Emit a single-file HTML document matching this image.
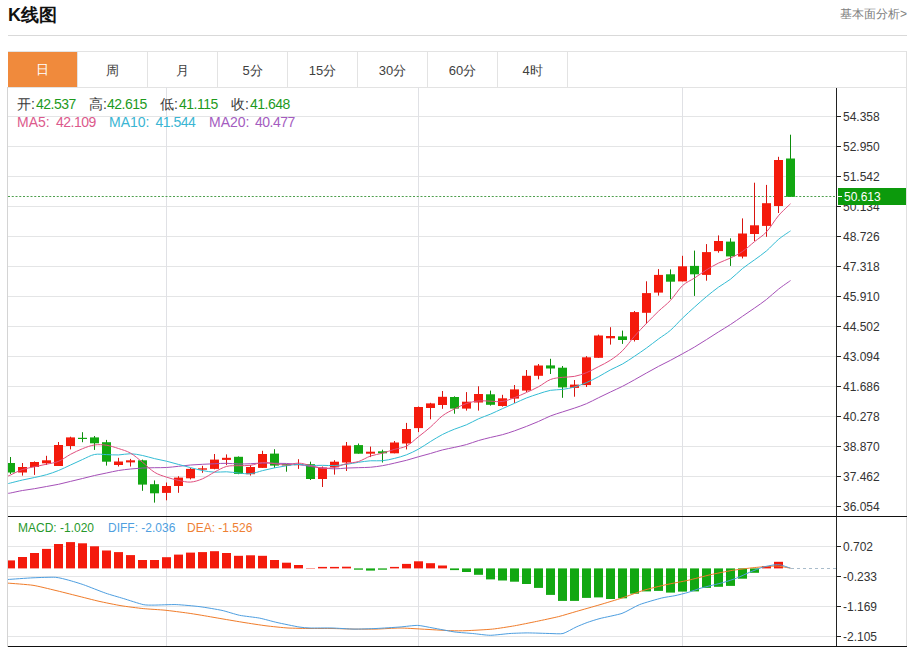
<!DOCTYPE html>
<html><head><meta charset="utf-8">
<style>
html,body{margin:0;padding:0;background:#fff;}
body{width:908px;height:648px;position:relative;overflow:hidden;font-family:"Liberation Sans",sans-serif;color:#333;}
.title{position:absolute;left:8px;top:3px;font-size:18px;font-weight:bold;color:#111;line-height:24px;}
.more{position:absolute;right:1px;top:5px;font-size:12px;color:#808080;line-height:18px;}
.hr{position:absolute;left:8px;top:35px;width:899px;height:1px;background:#d9d9d9;}
.tabbar{position:absolute;left:8px;top:51px;width:898px;height:35px;border-top:1px solid #e3e3e3;border-bottom:1px solid #e3e3e3;}
.tab{position:absolute;top:51px;width:69px;height:36px;border-right:1px solid #e3e3e3;text-align:center;line-height:39px;font-size:13px;color:#404040;}
.tab.on{background:#f08a3c;color:#fff;top:52px;height:35px;line-height:35px;}
svg{position:absolute;left:0;top:0;}
.ax{font-size:12px;fill:#333;font-family:"Liberation Sans",sans-serif;}
.info{position:absolute;font-size:14px;line-height:18px;white-space:nowrap;color:#3a3a3a;}
.n{letter-spacing:-0.5px;}
.g{color:#1d9a1d;}
</style></head><body>
<div class="title">K线图</div>
<div class="more">基本面分析&gt;</div>
<div class="hr"></div>
<div class="tabbar"></div>
<div class="tab on" style="left:8px">日</div><div class="tab" style="left:78px">周</div><div class="tab" style="left:148px">月</div><div class="tab" style="left:218px">5分</div><div class="tab" style="left:288px">15分</div><div class="tab" style="left:358px">30分</div><div class="tab" style="left:428px">60分</div><div class="tab" style="left:498px">4时</div>
<svg width="908" height="648" viewBox="0 0 908 648">
<defs>
<clipPath id="clipmain"><rect x="8" y="88" width="828" height="428"/></clipPath>
<clipPath id="clipmacd"><rect x="8" y="517" width="828" height="129"/></clipPath>
</defs>
<line x1="7.5" y1="87" x2="7.5" y2="647" stroke="#d4d4d4"/>
<line x1="906.5" y1="51" x2="906.5" y2="647" stroke="#e0e0e0"/>
<line x1="8" y1="116.5" x2="836" y2="116.5" stroke="#e4e5e6"/>
<line x1="8" y1="146.5" x2="836" y2="146.5" stroke="#e4e5e6"/>
<line x1="8" y1="176.5" x2="836" y2="176.5" stroke="#e4e5e6"/>
<line x1="8" y1="206.5" x2="836" y2="206.5" stroke="#e4e5e6"/>
<line x1="8" y1="236.5" x2="836" y2="236.5" stroke="#e4e5e6"/>
<line x1="8" y1="266.5" x2="836" y2="266.5" stroke="#e4e5e6"/>
<line x1="8" y1="296.5" x2="836" y2="296.5" stroke="#e4e5e6"/>
<line x1="8" y1="326.5" x2="836" y2="326.5" stroke="#e4e5e6"/>
<line x1="8" y1="356.5" x2="836" y2="356.5" stroke="#e4e5e6"/>
<line x1="8" y1="386.5" x2="836" y2="386.5" stroke="#e4e5e6"/>
<line x1="8" y1="416.5" x2="836" y2="416.5" stroke="#e4e5e6"/>
<line x1="8" y1="446.5" x2="836" y2="446.5" stroke="#e4e5e6"/>
<line x1="8" y1="476.5" x2="836" y2="476.5" stroke="#e4e5e6"/>
<line x1="8" y1="506.5" x2="836" y2="506.5" stroke="#e4e5e6"/>
<line x1="8" y1="546.5" x2="836" y2="546.5" stroke="#e4e5e6"/>
<line x1="8" y1="576.5" x2="836" y2="576.5" stroke="#e4e5e6"/>
<line x1="8" y1="606.5" x2="836" y2="606.5" stroke="#e4e5e6"/>
<line x1="8" y1="636.5" x2="836" y2="636.5" stroke="#e4e5e6"/>
<line x1="166.5" y1="87" x2="166.5" y2="646" stroke="#e0e1e5"/>
<line x1="418.5" y1="87" x2="418.5" y2="646" stroke="#e0e1e5"/>
<line x1="682.5" y1="87" x2="682.5" y2="646" stroke="#e0e1e5"/>
<line x1="791" y1="568.5" x2="836" y2="568.5" stroke="#a9bccb" stroke-dasharray="3,3"/>
<line x1="8" y1="196.5" x2="836" y2="196.5" stroke="#4f9f4f" stroke-dasharray="2,1.75"/>
<g clip-path="url(#clipmain)">
<rect x="10.0" y="457.0" width="1" height="17.0" fill="#0c8c0c"/>
<rect x="6.0" y="463.0" width="9" height="9.5" fill="#12a712"/>
<rect x="22.0" y="463.0" width="1" height="12.6" fill="#d81510"/>
<rect x="18.0" y="467.0" width="9" height="5.5" fill="#f41a0c"/>
<rect x="34.0" y="461.4" width="1" height="13.5" fill="#d81510"/>
<rect x="30.0" y="462.0" width="9" height="5.0" fill="#f41a0c"/>
<rect x="46.0" y="455.8" width="1" height="9.2" fill="#d81510"/>
<rect x="42.0" y="460.3" width="9" height="3.0" fill="#f41a0c"/>
<rect x="58.0" y="442.0" width="1" height="24.0" fill="#d81510"/>
<rect x="54.0" y="445.0" width="9" height="21.0" fill="#f41a0c"/>
<rect x="70.0" y="436.7" width="1" height="12.7" fill="#d81510"/>
<rect x="66.0" y="437.4" width="9" height="8.6" fill="#f41a0c"/>
<rect x="82.0" y="432.2" width="1" height="10.0" fill="#0c8c0c"/>
<rect x="78.0" y="437.8" width="9" height="1.2" fill="#12a712"/>
<rect x="94.0" y="436.0" width="1" height="13.9" fill="#0c8c0c"/>
<rect x="90.0" y="437.4" width="9" height="5.9" fill="#12a712"/>
<rect x="106.0" y="439.9" width="1" height="25.7" fill="#0c8c0c"/>
<rect x="102.0" y="442.2" width="9" height="19.5" fill="#12a712"/>
<rect x="118.0" y="457.8" width="1" height="8.7" fill="#d81510"/>
<rect x="114.0" y="461.5" width="9" height="3.5" fill="#f41a0c"/>
<rect x="130.0" y="458.9" width="1" height="7.6" fill="#d81510"/>
<rect x="126.0" y="460.3" width="9" height="2.1" fill="#f41a0c"/>
<rect x="142.0" y="459.6" width="1" height="31.2" fill="#0c8c0c"/>
<rect x="138.0" y="460.3" width="9" height="24.3" fill="#12a712"/>
<rect x="154.0" y="480.4" width="1" height="22.2" fill="#0c8c0c"/>
<rect x="150.0" y="484.2" width="9" height="9.1" fill="#12a712"/>
<rect x="166.0" y="482.5" width="1" height="17.8" fill="#d81510"/>
<rect x="162.0" y="486.0" width="9" height="6.9" fill="#f41a0c"/>
<rect x="178.0" y="476.2" width="1" height="16.6" fill="#d81510"/>
<rect x="174.0" y="477.6" width="9" height="8.4" fill="#f41a0c"/>
<rect x="190.0" y="468.0" width="1" height="11.4" fill="#d81510"/>
<rect x="186.0" y="468.9" width="9" height="9.4" fill="#f41a0c"/>
<rect x="202.0" y="465.8" width="1" height="7.0" fill="#d81510"/>
<rect x="198.0" y="468.3" width="9" height="1.4" fill="#f41a0c"/>
<rect x="214.0" y="454.0" width="1" height="15.3" fill="#d81510"/>
<rect x="210.0" y="459.6" width="9" height="9.3" fill="#f41a0c"/>
<rect x="226.0" y="454.4" width="1" height="10.7" fill="#d81510"/>
<rect x="222.0" y="457.8" width="9" height="2.1" fill="#f41a0c"/>
<rect x="238.0" y="456.4" width="1" height="17.8" fill="#0c8c0c"/>
<rect x="234.0" y="456.8" width="9" height="17.1" fill="#12a712"/>
<rect x="250.0" y="465.0" width="1" height="10.6" fill="#d81510"/>
<rect x="246.0" y="467.0" width="9" height="7.2" fill="#f41a0c"/>
<rect x="262.0" y="450.8" width="1" height="17.1" fill="#d81510"/>
<rect x="258.0" y="454.0" width="9" height="13.9" fill="#f41a0c"/>
<rect x="274.0" y="449.2" width="1" height="18.7" fill="#0c8c0c"/>
<rect x="270.0" y="453.6" width="9" height="12.0" fill="#12a712"/>
<rect x="286.0" y="464.4" width="1" height="7.3" fill="#0c8c0c"/>
<rect x="282.0" y="464.2" width="9" height="1.2" fill="#12a712"/>
<rect x="298.0" y="459.2" width="1" height="9.7" fill="#d81510"/>
<rect x="294.0" y="464.0" width="9" height="1.2" fill="#f41a0c"/>
<rect x="310.0" y="461.7" width="1" height="18.3" fill="#0c8c0c"/>
<rect x="306.0" y="464.2" width="9" height="14.8" fill="#12a712"/>
<rect x="322.0" y="466.5" width="1" height="20.5" fill="#d81510"/>
<rect x="318.0" y="467.5" width="9" height="11.5" fill="#f41a0c"/>
<rect x="334.0" y="460.2" width="1" height="14.4" fill="#d81510"/>
<rect x="330.0" y="461.7" width="9" height="5.6" fill="#f41a0c"/>
<rect x="346.0" y="442.0" width="1" height="29.0" fill="#d81510"/>
<rect x="342.0" y="445.6" width="9" height="16.9" fill="#f41a0c"/>
<rect x="358.0" y="443.5" width="1" height="10.2" fill="#0c8c0c"/>
<rect x="354.0" y="445.1" width="9" height="8.6" fill="#12a712"/>
<rect x="370.0" y="446.6" width="1" height="10.5" fill="#d81510"/>
<rect x="366.0" y="451.7" width="9" height="2.0" fill="#f41a0c"/>
<rect x="382.0" y="449.7" width="1" height="12.8" fill="#0c8c0c"/>
<rect x="378.0" y="451.3" width="9" height="2.0" fill="#12a712"/>
<rect x="394.0" y="441.0" width="1" height="12.3" fill="#d81510"/>
<rect x="390.0" y="442.5" width="9" height="10.8" fill="#f41a0c"/>
<rect x="406.0" y="422.9" width="1" height="26.5" fill="#d81510"/>
<rect x="402.0" y="429.0" width="9" height="14.5" fill="#f41a0c"/>
<rect x="418.0" y="406.5" width="1" height="25.6" fill="#d81510"/>
<rect x="414.0" y="407.0" width="9" height="21.1" fill="#f41a0c"/>
<rect x="430.0" y="402.8" width="1" height="16.5" fill="#d81510"/>
<rect x="426.0" y="403.4" width="9" height="4.6" fill="#f41a0c"/>
<rect x="442.0" y="391.0" width="1" height="17.8" fill="#d81510"/>
<rect x="438.0" y="396.8" width="9" height="8.2" fill="#f41a0c"/>
<rect x="454.0" y="396.3" width="1" height="17.4" fill="#0c8c0c"/>
<rect x="450.0" y="397.0" width="9" height="11.6" fill="#12a712"/>
<rect x="466.0" y="392.1" width="1" height="18.5" fill="#d81510"/>
<rect x="462.0" y="401.7" width="9" height="6.9" fill="#f41a0c"/>
<rect x="478.0" y="386.3" width="1" height="24.3" fill="#d81510"/>
<rect x="474.0" y="394.0" width="9" height="8.5" fill="#f41a0c"/>
<rect x="490.0" y="390.6" width="1" height="15.0" fill="#0c8c0c"/>
<rect x="486.0" y="394.3" width="9" height="10.5" fill="#12a712"/>
<rect x="502.0" y="394.8" width="1" height="11.8" fill="#d81510"/>
<rect x="498.0" y="398.3" width="9" height="7.7" fill="#f41a0c"/>
<rect x="514.0" y="385.0" width="1" height="18.0" fill="#d81510"/>
<rect x="510.0" y="389.4" width="9" height="9.2" fill="#f41a0c"/>
<rect x="526.0" y="370.0" width="1" height="22.0" fill="#d81510"/>
<rect x="522.0" y="375.8" width="9" height="14.8" fill="#f41a0c"/>
<rect x="538.0" y="364.0" width="1" height="15.3" fill="#d81510"/>
<rect x="534.0" y="365.5" width="9" height="10.3" fill="#f41a0c"/>
<rect x="550.0" y="358.8" width="1" height="15.2" fill="#0c8c0c"/>
<rect x="546.0" y="365.4" width="9" height="3.1" fill="#12a712"/>
<rect x="562.0" y="366.0" width="1" height="31.8" fill="#0c8c0c"/>
<rect x="558.0" y="367.7" width="9" height="19.7" fill="#12a712"/>
<rect x="574.0" y="380.0" width="1" height="16.7" fill="#d81510"/>
<rect x="570.0" y="384.6" width="9" height="3.3" fill="#f41a0c"/>
<rect x="586.0" y="356.1" width="1" height="30.9" fill="#d81510"/>
<rect x="582.0" y="357.3" width="9" height="27.8" fill="#f41a0c"/>
<rect x="598.0" y="334.6" width="1" height="23.2" fill="#d81510"/>
<rect x="594.0" y="335.5" width="9" height="22.3" fill="#f41a0c"/>
<rect x="610.0" y="327.2" width="1" height="17.4" fill="#d81510"/>
<rect x="606.0" y="336.0" width="9" height="2.3" fill="#f41a0c"/>
<rect x="622.0" y="330.6" width="1" height="13.3" fill="#0c8c0c"/>
<rect x="618.0" y="336.4" width="9" height="3.6" fill="#12a712"/>
<rect x="634.0" y="311.0" width="1" height="30.5" fill="#d81510"/>
<rect x="630.0" y="312.1" width="9" height="27.9" fill="#f41a0c"/>
<rect x="646.0" y="281.3" width="1" height="42.4" fill="#d81510"/>
<rect x="642.0" y="293.1" width="9" height="19.7" fill="#f41a0c"/>
<rect x="658.0" y="269.1" width="1" height="26.5" fill="#d81510"/>
<rect x="654.0" y="274.9" width="9" height="17.7" fill="#f41a0c"/>
<rect x="670.0" y="269.4" width="1" height="29.6" fill="#0c8c0c"/>
<rect x="666.0" y="274.3" width="9" height="7.4" fill="#12a712"/>
<rect x="682.0" y="255.8" width="1" height="25.6" fill="#d81510"/>
<rect x="678.0" y="266.3" width="9" height="15.1" fill="#f41a0c"/>
<rect x="694.0" y="250.6" width="1" height="45.3" fill="#0c8c0c"/>
<rect x="690.0" y="265.9" width="9" height="8.4" fill="#12a712"/>
<rect x="706.0" y="244.1" width="1" height="36.6" fill="#d81510"/>
<rect x="702.0" y="252.1" width="9" height="22.8" fill="#f41a0c"/>
<rect x="718.0" y="235.4" width="1" height="17.3" fill="#d81510"/>
<rect x="714.0" y="241.0" width="9" height="10.1" fill="#f41a0c"/>
<rect x="730.0" y="238.3" width="1" height="27.6" fill="#0c8c0c"/>
<rect x="726.0" y="241.6" width="9" height="14.8" fill="#12a712"/>
<rect x="742.0" y="218.4" width="1" height="40.0" fill="#d81510"/>
<rect x="738.0" y="233.5" width="9" height="23.1" fill="#f41a0c"/>
<rect x="754.0" y="182.7" width="1" height="58.3" fill="#d81510"/>
<rect x="750.0" y="225.3" width="9" height="8.7" fill="#f41a0c"/>
<rect x="766.0" y="184.9" width="1" height="51.9" fill="#d81510"/>
<rect x="762.0" y="203.2" width="9" height="22.7" fill="#f41a0c"/>
<rect x="778.0" y="156.8" width="1" height="56.2" fill="#d81510"/>
<rect x="774.0" y="160.0" width="9" height="46.0" fill="#f41a0c"/>
<rect x="790.0" y="134.7" width="1" height="62.1" fill="#0c8c0c"/>
<rect x="786.0" y="158.5" width="9" height="38.3" fill="#12a712"/>
</g>
<g clip-path="url(#clipmain)">
<path d="M8.00,493.30 C8.42,493.25 8.08,493.47 10.50,493.00 C12.92,492.53 18.50,491.22 22.50,490.50 C26.50,489.78 30.50,489.37 34.50,488.70 C38.50,488.03 42.50,487.23 46.50,486.50 C50.50,485.77 54.50,485.15 58.50,484.30 C62.50,483.45 66.50,482.37 70.50,481.40 C74.50,480.43 78.50,479.48 82.50,478.50 C86.50,477.52 90.50,476.42 94.50,475.50 C98.50,474.58 102.50,473.83 106.50,473.00 C110.50,472.17 114.50,471.17 118.50,470.50 C122.50,469.83 126.50,469.42 130.50,469.00 C134.50,468.58 138.50,468.22 142.50,468.00 C146.50,467.78 150.50,467.78 154.50,467.70 C158.50,467.62 162.50,467.73 166.50,467.50 C170.50,467.27 174.50,466.72 178.50,466.30 C182.50,465.88 186.50,465.33 190.50,465.00 C194.50,464.67 198.50,464.51 202.50,464.30 C206.50,464.09 210.50,463.92 214.50,463.75 C218.50,463.58 222.50,463.26 226.50,463.30 C230.50,463.34 234.50,463.92 238.50,463.99 C242.50,464.06 246.50,463.87 250.50,463.71 C254.50,463.56 258.50,463.14 262.50,463.06 C266.50,462.99 270.50,463.18 274.50,463.25 C278.50,463.31 282.50,463.28 286.50,463.48 C290.50,463.68 294.50,463.93 298.50,464.43 C302.50,464.94 306.50,465.92 310.50,466.51 C314.50,467.10 318.50,467.55 322.50,467.95 C326.50,468.34 330.50,468.85 334.50,468.86 C338.50,468.88 342.50,468.26 346.50,468.06 C350.50,467.86 354.50,467.81 358.50,467.67 C362.50,467.53 366.50,467.57 370.50,467.24 C374.50,466.91 378.50,466.36 382.50,465.68 C386.50,464.99 390.50,464.03 394.50,463.14 C398.50,462.24 402.50,461.35 406.50,460.29 C410.50,459.22 414.50,457.89 418.50,456.75 C422.50,455.62 426.50,454.62 430.50,453.48 C434.50,452.34 438.50,450.93 442.50,449.91 C446.50,448.88 450.50,448.25 454.50,447.36 C458.50,446.46 462.50,445.68 466.50,444.55 C470.50,443.42 474.50,441.74 478.50,440.56 C482.50,439.37 486.50,438.43 490.50,437.44 C494.50,436.46 498.50,435.76 502.50,434.66 C506.50,433.56 510.50,432.23 514.50,430.85 C518.50,429.47 522.50,427.95 526.50,426.39 C530.50,424.83 534.50,423.21 538.50,421.46 C542.50,419.72 546.50,417.53 550.50,415.94 C554.50,414.35 558.50,413.25 562.50,411.94 C566.50,410.63 570.50,409.46 574.50,408.08 C578.50,406.70 582.50,405.39 586.50,403.67 C590.50,401.94 594.50,399.70 598.50,397.75 C602.50,395.81 606.50,393.88 610.50,391.97 C614.50,390.06 618.50,388.34 622.50,386.31 C626.50,384.27 630.50,382.00 634.50,379.78 C638.50,377.57 642.50,375.22 646.50,372.99 C650.50,370.76 654.50,368.50 658.50,366.38 C662.50,364.27 666.50,362.40 670.50,360.30 C674.50,358.20 678.50,355.98 682.50,353.77 C686.50,351.57 690.50,349.43 694.50,347.06 C698.50,344.69 702.50,342.10 706.50,339.58 C710.50,337.06 714.50,334.44 718.50,331.93 C722.50,329.42 726.50,327.12 730.50,324.51 C734.50,321.90 738.50,319.01 742.50,316.27 C746.50,313.53 750.50,310.87 754.50,308.06 C758.50,305.26 762.50,302.59 766.50,299.44 C770.50,296.28 774.50,292.30 778.50,289.16 C782.50,286.02 788.50,282.01 790.50,280.57" fill="none" stroke="#a550b8" stroke-width="1"/>
<path d="M8.00,483.60 C8.42,483.50 8.08,483.60 10.50,483.00 C12.92,482.40 18.50,480.92 22.50,480.00 C26.50,479.08 30.50,478.38 34.50,477.50 C38.50,476.62 42.50,475.87 46.50,474.70 C50.50,473.53 54.50,472.12 58.50,470.50 C62.50,468.88 66.50,466.83 70.50,465.00 C74.50,463.17 78.50,461.25 82.50,459.50 C86.50,457.75 90.50,455.32 94.50,454.50 C98.50,453.68 102.50,454.53 106.50,454.60 C110.50,454.68 114.50,455.09 118.50,454.95 C122.50,454.81 126.50,453.64 130.50,453.73 C134.50,453.82 138.50,454.67 142.50,455.49 C146.50,456.30 150.50,457.67 154.50,458.62 C158.50,459.57 162.50,460.22 166.50,461.19 C170.50,462.16 174.50,463.38 178.50,464.45 C182.50,465.52 186.50,466.58 190.50,467.60 C194.50,468.62 198.50,469.79 202.50,470.55 C206.50,471.31 210.50,471.97 214.50,472.18 C218.50,472.39 222.50,471.65 226.50,471.79 C230.50,471.93 234.50,472.71 238.50,473.03 C242.50,473.35 246.50,474.10 250.50,473.70 C254.50,473.30 258.50,471.61 262.50,470.64 C266.50,469.67 270.50,468.68 274.50,467.87 C278.50,467.06 282.50,466.35 286.50,465.77 C290.50,465.19 294.50,464.47 298.50,464.41 C302.50,464.35 306.50,465.26 310.50,465.42 C314.50,465.57 318.50,465.32 322.50,465.34 C326.50,465.36 330.50,465.72 334.50,465.55 C338.50,465.38 342.50,464.87 346.50,464.33 C350.50,463.79 354.50,462.90 358.50,462.31 C362.50,461.72 366.50,461.05 370.50,460.78 C374.50,460.51 378.50,461.11 382.50,460.71 C386.50,460.31 390.50,459.38 394.50,458.40 C398.50,457.41 402.50,456.35 406.50,454.80 C410.50,453.25 414.50,451.31 418.50,449.10 C422.50,446.89 426.50,443.98 430.50,441.54 C434.50,439.10 438.50,436.53 442.50,434.47 C446.50,432.41 450.50,430.78 454.50,429.16 C458.50,427.54 462.50,426.50 466.50,424.77 C470.50,423.04 474.50,420.58 478.50,418.80 C482.50,417.02 486.50,415.81 490.50,414.11 C494.50,412.41 498.50,410.41 502.50,408.61 C506.50,406.81 510.50,405.07 514.50,403.30 C518.50,401.53 522.50,399.56 526.50,397.98 C530.50,396.40 534.50,395.10 538.50,393.83 C542.50,392.56 546.50,391.08 550.50,390.34 C554.50,389.60 558.50,389.96 562.50,389.40 C566.50,388.84 570.50,388.14 574.50,387.00 C578.50,385.86 582.50,384.27 586.50,382.56 C590.50,380.85 594.50,378.83 598.50,376.71 C602.50,374.59 606.50,371.95 610.50,369.83 C614.50,367.71 618.50,366.26 622.50,364.00 C626.50,361.74 630.50,358.94 634.50,356.27 C638.50,353.60 642.50,350.89 646.50,348.00 C650.50,345.11 654.50,341.90 658.50,338.94 C662.50,335.98 666.50,333.73 670.50,330.26 C674.50,326.80 678.50,322.01 682.50,318.15 C686.50,314.29 690.50,310.71 694.50,307.12 C698.50,303.53 702.50,299.93 706.50,296.60 C710.50,293.27 714.50,290.05 718.50,287.15 C722.50,284.25 726.50,282.29 730.50,279.19 C734.50,276.09 738.50,271.76 742.50,268.54 C746.50,265.32 750.50,262.81 754.50,259.86 C758.50,256.92 762.50,254.28 766.50,250.87 C770.50,247.46 774.50,242.71 778.50,239.38 C782.50,236.05 788.50,232.31 790.50,230.89" fill="none" stroke="#33bcd4" stroke-width="1"/>
<path d="M8.00,476.00 C8.42,475.83 8.08,476.08 10.50,475.00 C12.92,473.92 18.50,470.87 22.50,469.50 C26.50,468.13 30.50,467.68 34.50,466.80 C38.50,465.92 42.50,465.11 46.50,464.20 C50.50,463.29 54.50,463.00 58.50,461.36 C62.50,459.72 66.50,456.45 70.50,454.34 C74.50,452.23 78.50,450.26 82.50,448.70 C86.50,447.14 90.50,445.54 94.50,444.96 C98.50,444.38 102.50,444.64 106.50,445.24 C110.50,445.84 114.50,447.23 118.50,448.54 C122.50,449.85 126.50,450.83 130.50,453.12 C134.50,455.41 138.50,459.09 142.50,462.28 C146.50,465.47 150.50,469.80 154.50,472.28 C158.50,474.76 162.50,475.79 166.50,477.14 C170.50,478.49 174.50,479.54 178.50,480.36 C182.50,481.18 186.50,482.34 190.50,482.08 C194.50,481.82 198.50,480.49 202.50,478.82 C206.50,477.15 210.50,474.14 214.50,472.08 C218.50,470.02 222.50,467.50 226.50,466.44 C230.50,465.38 234.50,465.89 238.50,465.70 C242.50,465.51 246.50,465.86 250.50,465.32 C254.50,464.78 258.50,462.74 262.50,462.46 C266.50,462.18 270.50,463.22 274.50,463.66 C278.50,464.10 282.50,465.19 286.50,465.10 C290.50,465.01 294.50,463.05 298.50,463.12 C302.50,463.19 306.50,464.67 310.50,465.52 C314.50,466.37 318.50,467.90 322.50,468.22 C326.50,468.54 330.50,468.22 334.50,467.44 C338.50,466.66 342.50,464.55 346.50,463.56 C350.50,462.57 354.50,462.75 358.50,461.50 C362.50,460.25 366.50,457.42 370.50,456.04 C374.50,454.66 378.50,454.31 382.50,453.20 C386.50,452.09 390.50,450.55 394.50,449.36 C398.50,448.17 402.50,448.15 406.50,446.04 C410.50,443.93 414.50,439.87 418.50,436.70 C422.50,433.53 426.50,430.53 430.50,427.04 C434.50,423.55 438.50,418.75 442.50,415.74 C446.50,412.73 450.50,411.00 454.50,408.96 C458.50,406.92 462.50,404.84 466.50,403.50 C470.50,402.16 474.50,401.29 478.50,400.90 C482.50,400.51 486.50,401.08 490.50,401.18 C494.50,401.28 498.50,402.07 502.50,401.48 C506.50,400.89 510.50,399.14 514.50,397.64 C518.50,396.14 522.50,394.27 526.50,392.46 C530.50,390.65 534.50,388.92 538.50,386.76 C542.50,384.60 546.50,381.07 550.50,379.50 C554.50,377.93 558.50,377.84 562.50,377.32 C566.50,376.80 570.50,377.14 574.50,376.36 C578.50,375.58 582.50,374.28 586.50,372.66 C590.50,371.04 594.50,368.74 598.50,366.66 C602.50,364.58 606.50,362.82 610.50,360.16 C614.50,357.50 618.50,354.68 622.50,350.68 C626.50,346.68 630.50,340.74 634.50,336.18 C638.50,331.62 642.50,327.50 646.50,323.34 C650.50,319.18 654.50,315.05 658.50,311.22 C662.50,307.39 666.50,304.63 670.50,300.36 C674.50,296.09 678.50,289.34 682.50,285.62 C686.50,281.90 690.50,280.69 694.50,278.06 C698.50,275.43 702.50,272.36 706.50,269.86 C710.50,267.36 714.50,265.05 718.50,263.08 C722.50,261.11 726.50,259.96 730.50,258.02 C734.50,256.08 738.50,254.19 742.50,251.46 C746.50,248.73 750.50,244.92 754.50,241.66 C758.50,238.40 762.50,236.21 766.50,231.88 C770.50,227.55 774.50,220.37 778.50,215.68 C782.50,210.99 788.50,205.75 790.50,203.76" fill="none" stroke="#e0507f" stroke-width="1"/>
</g>
<g clip-path="url(#clipmacd)">
<rect x="6.0" y="560.4" width="9" height="8.0" fill="#f41a0c"/>
<rect x="18.0" y="557.0" width="9" height="11.4" fill="#f41a0c"/>
<rect x="30.0" y="553.0" width="9" height="15.4" fill="#f41a0c"/>
<rect x="42.0" y="548.9" width="9" height="19.5" fill="#f41a0c"/>
<rect x="54.0" y="544.0" width="9" height="24.4" fill="#f41a0c"/>
<rect x="66.0" y="542.1" width="9" height="26.3" fill="#f41a0c"/>
<rect x="78.0" y="543.3" width="9" height="25.1" fill="#f41a0c"/>
<rect x="90.0" y="546.3" width="9" height="22.1" fill="#f41a0c"/>
<rect x="102.0" y="550.5" width="9" height="17.9" fill="#f41a0c"/>
<rect x="114.0" y="552.1" width="9" height="16.3" fill="#f41a0c"/>
<rect x="126.0" y="555.1" width="9" height="13.3" fill="#f41a0c"/>
<rect x="138.0" y="560.0" width="9" height="8.4" fill="#f41a0c"/>
<rect x="150.0" y="560.0" width="9" height="8.4" fill="#f41a0c"/>
<rect x="162.0" y="557.2" width="9" height="11.2" fill="#f41a0c"/>
<rect x="174.0" y="554.6" width="9" height="13.8" fill="#f41a0c"/>
<rect x="186.0" y="552.6" width="9" height="15.8" fill="#f41a0c"/>
<rect x="198.0" y="552.1" width="9" height="16.3" fill="#f41a0c"/>
<rect x="210.0" y="551.2" width="9" height="17.2" fill="#f41a0c"/>
<rect x="222.0" y="553.0" width="9" height="15.4" fill="#f41a0c"/>
<rect x="234.0" y="555.8" width="9" height="12.6" fill="#f41a0c"/>
<rect x="246.0" y="555.3" width="9" height="13.1" fill="#f41a0c"/>
<rect x="258.0" y="555.8" width="9" height="12.6" fill="#f41a0c"/>
<rect x="270.0" y="560.0" width="9" height="8.4" fill="#f41a0c"/>
<rect x="282.0" y="562.7" width="9" height="5.7" fill="#f41a0c"/>
<rect x="294.0" y="565.0" width="9" height="3.4" fill="#f41a0c"/>
<rect x="306.0" y="568.0" width="9" height="0.4" fill="#f41a0c"/>
<rect x="318.0" y="566.9" width="9" height="1.5" fill="#f41a0c"/>
<rect x="330.0" y="566.9" width="9" height="1.5" fill="#f41a0c"/>
<rect x="342.0" y="566.7" width="9" height="1.7" fill="#f41a0c"/>
<rect x="354.0" y="568.4" width="9" height="1.3" fill="#12a712"/>
<rect x="366.0" y="568.4" width="9" height="2.2" fill="#12a712"/>
<rect x="378.0" y="568.4" width="9" height="1.3" fill="#12a712"/>
<rect x="390.0" y="566.9" width="9" height="1.5" fill="#f41a0c"/>
<rect x="402.0" y="563.9" width="9" height="4.5" fill="#f41a0c"/>
<rect x="414.0" y="561.3" width="9" height="7.1" fill="#f41a0c"/>
<rect x="426.0" y="563.2" width="9" height="5.2" fill="#f41a0c"/>
<rect x="438.0" y="565.5" width="9" height="2.9" fill="#f41a0c"/>
<rect x="450.0" y="568.4" width="9" height="1.7" fill="#12a712"/>
<rect x="462.0" y="568.4" width="9" height="3.6" fill="#12a712"/>
<rect x="474.0" y="568.4" width="9" height="6.4" fill="#12a712"/>
<rect x="486.0" y="568.4" width="9" height="11.0" fill="#12a712"/>
<rect x="498.0" y="568.4" width="9" height="12.1" fill="#12a712"/>
<rect x="510.0" y="568.4" width="9" height="13.3" fill="#12a712"/>
<rect x="522.0" y="568.4" width="9" height="15.6" fill="#12a712"/>
<rect x="534.0" y="568.4" width="9" height="19.5" fill="#12a712"/>
<rect x="546.0" y="568.4" width="9" height="26.5" fill="#12a712"/>
<rect x="558.0" y="568.4" width="9" height="32.5" fill="#12a712"/>
<rect x="570.0" y="568.4" width="9" height="32.5" fill="#12a712"/>
<rect x="582.0" y="568.4" width="9" height="29.5" fill="#12a712"/>
<rect x="594.0" y="568.4" width="9" height="29.0" fill="#12a712"/>
<rect x="606.0" y="568.4" width="9" height="30.6" fill="#12a712"/>
<rect x="618.0" y="568.4" width="9" height="29.9" fill="#12a712"/>
<rect x="630.0" y="568.4" width="9" height="25.3" fill="#12a712"/>
<rect x="642.0" y="568.4" width="9" height="23.0" fill="#12a712"/>
<rect x="654.0" y="568.4" width="9" height="22.5" fill="#12a712"/>
<rect x="666.0" y="568.4" width="9" height="24.2" fill="#12a712"/>
<rect x="678.0" y="568.4" width="9" height="23.2" fill="#12a712"/>
<rect x="690.0" y="568.4" width="9" height="23.0" fill="#12a712"/>
<rect x="702.0" y="568.4" width="9" height="19.5" fill="#12a712"/>
<rect x="714.0" y="568.4" width="9" height="18.4" fill="#12a712"/>
<rect x="726.0" y="568.4" width="9" height="17.5" fill="#12a712"/>
<rect x="738.0" y="568.4" width="9" height="10.3" fill="#12a712"/>
<rect x="750.0" y="568.4" width="9" height="4.4" fill="#12a712"/>
<rect x="762.0" y="566.0" width="9" height="2.4" fill="#f41a0c"/>
<rect x="774.0" y="561.8" width="9" height="6.6" fill="#f41a0c"/>
<path d="M7.70,583.10 C10.23,583.32 28.27,584.58 33.00,585.30 C37.73,586.02 50.60,589.25 55.00,590.30 C59.40,591.35 72.60,594.70 77.00,595.80 C81.40,596.90 94.60,600.31 99.00,601.30 C103.40,602.29 116.58,604.97 121.00,605.70 C125.42,606.43 138.80,608.15 143.20,608.60 C147.60,609.05 160.60,609.76 165.00,610.20 C169.40,610.64 183.70,612.52 187.20,613.00 C190.70,613.48 196.52,614.42 200.00,615.00 C203.48,615.58 217.60,618.05 222.00,618.80 C226.40,619.55 239.60,621.80 244.00,622.50 C248.40,623.20 261.60,625.25 266.00,625.80 C270.40,626.35 283.60,627.73 288.00,628.00 C292.40,628.27 305.60,628.45 310.00,628.50 C314.40,628.55 327.60,628.44 332.00,628.50 C336.40,628.56 349.60,629.04 354.00,629.10 C358.40,629.16 371.40,629.21 376.00,629.10 C380.60,628.99 395.40,628.00 400.00,628.00 C404.60,628.00 416.93,628.83 422.00,629.10 C427.07,629.37 446.30,630.54 450.70,630.70 C455.10,630.86 461.82,630.86 466.00,630.70 C470.18,630.54 487.65,629.59 492.50,629.10 C497.35,628.61 510.09,626.57 514.50,625.80 C518.91,625.03 532.19,622.32 536.60,621.40 C541.01,620.48 554.64,617.59 558.60,616.60 C562.56,615.61 572.06,612.69 576.20,611.50 C580.34,610.31 595.42,606.05 600.00,604.70 C604.58,603.35 617.60,599.45 622.00,598.00 C626.40,596.55 639.60,591.53 644.00,590.20 C648.40,588.87 661.59,585.69 666.00,584.70 C670.41,583.71 683.69,581.29 688.10,580.30 C692.51,579.31 705.69,575.79 710.10,574.80 C714.51,573.81 727.79,571.12 732.20,570.40 C736.61,569.68 749.80,568.04 754.20,567.60 C758.60,567.16 772.57,565.94 776.20,566.00 C779.83,566.06 789.07,567.98 790.50,568.20" fill="none" stroke="#f07c2a" stroke-width="1"/>
<path d="M7.70,579.50 C10.23,579.33 28.22,578.02 33.00,577.80 C37.78,577.58 51.93,577.06 55.50,577.30 C59.07,577.54 65.88,579.45 68.70,580.20 C71.52,580.95 80.00,583.50 83.70,584.80 C87.40,586.10 101.74,591.83 105.70,593.20 C109.66,594.57 119.55,597.36 123.30,598.50 C127.05,599.64 140.11,603.94 143.20,604.60 C146.29,605.26 150.90,605.10 154.20,605.10 C157.50,605.10 171.62,604.44 176.20,604.60 C180.78,604.76 195.42,606.12 200.00,606.70 C204.58,607.28 218.04,609.54 222.00,610.40 C225.96,611.26 235.85,614.53 239.60,615.30 C243.35,616.07 255.76,617.38 259.50,618.10 C263.24,618.82 273.05,621.61 277.00,622.50 C280.95,623.39 295.70,626.45 299.00,627.00 C302.30,627.55 306.70,627.90 310.00,628.00 C313.30,628.10 327.60,627.89 332.00,628.00 C336.40,628.11 349.60,629.05 354.00,629.10 C358.40,629.15 371.40,628.71 376.00,628.50 C380.60,628.29 395.84,627.31 400.00,627.00 C404.16,626.69 414.30,625.30 417.60,625.40 C420.90,625.50 429.26,627.34 433.00,628.00 C436.74,628.66 451.03,631.45 455.00,632.00 C458.97,632.55 469.17,633.17 472.70,633.50 C476.23,633.83 486.57,635.30 490.30,635.30 C494.03,635.30 506.25,633.74 510.00,633.50 C513.75,633.26 523.82,632.90 527.80,632.90 C531.78,632.90 546.28,633.44 549.80,633.50 C553.32,633.56 560.36,634.15 563.00,633.50 C565.64,632.85 573.78,628.10 576.20,627.00 C578.62,625.90 584.82,623.35 587.20,622.50 C589.58,621.65 596.52,619.41 600.00,618.50 C603.48,617.59 618.04,614.79 622.00,613.40 C625.96,612.01 635.63,606.14 639.60,604.60 C643.57,603.06 658.17,598.89 661.70,598.00 C665.23,597.11 672.26,596.26 674.90,595.70 C677.54,595.14 685.46,593.17 688.10,592.40 C690.74,591.63 697.78,588.99 701.30,588.00 C704.82,587.01 719.77,583.49 723.30,582.50 C726.83,581.51 733.95,579.13 736.60,578.10 C739.25,577.07 747.16,573.30 749.80,572.20 C752.44,571.10 760.58,567.83 763.00,567.10 C765.42,566.37 772.24,565.12 774.00,564.90 C775.76,564.68 778.95,564.57 780.60,564.90 C782.25,565.23 789.51,567.87 790.50,568.20" fill="none" stroke="#4d9ee0" stroke-width="1"/>
</g>
<line x1="8" y1="516.5" x2="907" y2="516.5" stroke="#111"/>
<line x1="8" y1="646.5" x2="907" y2="646.5" stroke="#111"/>
<line x1="836.5" y1="88" x2="836.5" y2="646" stroke="#222"/>
<line x1="836" y1="116.5" x2="841" y2="116.5" stroke="#222"/>
<text x="843" y="121.0" class="ax">54.358</text>
<line x1="836" y1="146.5" x2="841" y2="146.5" stroke="#222"/>
<text x="843" y="151.0" class="ax">52.950</text>
<line x1="836" y1="176.5" x2="841" y2="176.5" stroke="#222"/>
<text x="843" y="181.0" class="ax">51.542</text>
<line x1="836" y1="206.5" x2="841" y2="206.5" stroke="#222"/>
<text x="843" y="211.0" class="ax">50.134</text>
<line x1="836" y1="236.5" x2="841" y2="236.5" stroke="#222"/>
<text x="843" y="241.0" class="ax">48.726</text>
<line x1="836" y1="266.5" x2="841" y2="266.5" stroke="#222"/>
<text x="843" y="271.0" class="ax">47.318</text>
<line x1="836" y1="296.5" x2="841" y2="296.5" stroke="#222"/>
<text x="843" y="301.0" class="ax">45.910</text>
<line x1="836" y1="326.5" x2="841" y2="326.5" stroke="#222"/>
<text x="843" y="331.0" class="ax">44.502</text>
<line x1="836" y1="356.5" x2="841" y2="356.5" stroke="#222"/>
<text x="843" y="361.0" class="ax">43.094</text>
<line x1="836" y1="386.5" x2="841" y2="386.5" stroke="#222"/>
<text x="843" y="391.0" class="ax">41.686</text>
<line x1="836" y1="416.5" x2="841" y2="416.5" stroke="#222"/>
<text x="843" y="421.0" class="ax">40.278</text>
<line x1="836" y1="446.5" x2="841" y2="446.5" stroke="#222"/>
<text x="843" y="451.0" class="ax">38.870</text>
<line x1="836" y1="476.5" x2="841" y2="476.5" stroke="#222"/>
<text x="843" y="481.0" class="ax">37.462</text>
<line x1="836" y1="506.5" x2="841" y2="506.5" stroke="#222"/>
<text x="843" y="511.0" class="ax">36.054</text>
<line x1="836" y1="546.5" x2="841" y2="546.5" stroke="#222"/>
<text x="843" y="551.0" class="ax">0.702</text>
<line x1="836" y1="576.5" x2="841" y2="576.5" stroke="#222"/>
<text x="843" y="581.0" class="ax">-0.233</text>
<line x1="836" y1="606.5" x2="841" y2="606.5" stroke="#222"/>
<text x="843" y="611.0" class="ax">-1.169</text>
<line x1="836" y1="636.5" x2="841" y2="636.5" stroke="#222"/>
<text x="843" y="641.0" class="ax">-2.105</text>
<rect x="838" y="188" width="68" height="17" fill="#0c9a0c"/>
<line x1="838" y1="196.5" x2="842" y2="196.5" stroke="#fff"/>
<text x="844" y="201" class="ax" fill="#ffffff" style="fill:#fff">50.613</text>
</svg>
<div class="info" style="left:17px;top:95px;">开:</div><div class="info g n" style="left:36px;top:95px;">42.537</div>
<div class="info" style="left:89px;top:95px;">高:</div><div class="info g n" style="left:107px;top:95px;">42.615</div>
<div class="info" style="left:160px;top:95px;">低:</div><div class="info g n" style="left:179px;top:95px;">41.115</div>
<div class="info" style="left:231px;top:95px;">收:</div><div class="info g n" style="left:250px;top:95px;">41.648</div>
<div class="info" style="left:17px;top:113px;color:#dc5a8c">MA5:</div><div class="info n" style="left:56px;top:113px;color:#dc5a8c">42.109</div>
<div class="info" style="left:109px;top:113px;color:#3ab5d3">MA10:</div><div class="info n" style="left:155.5px;top:113px;color:#3ab5d3">41.544</div>
<div class="info" style="left:209px;top:113px;color:#a45cc0">MA20:</div><div class="info n" style="left:255px;top:113px;color:#a45cc0">40.477</div>
<div class="info" style="left:18px;top:519px;font-size:12px;color:#27982a">MACD: -1.020</div>
<div class="info" style="left:108px;top:519px;font-size:12px;color:#4f9fdf">DIFF: -2.036</div>
<div class="info" style="left:187px;top:519px;font-size:12px;color:#ee8034">DEA: -1.526</div>
</body></html>
